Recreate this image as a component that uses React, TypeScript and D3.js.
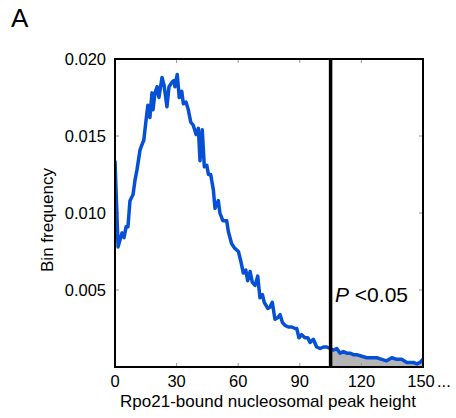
import React from "react";
import * as d3 from "d3";

const peakHeight = [
  0, 1.5, 3.4, 4.4, 5.4, 6.3, 7.3, 8.8, 9.7, 10.7, 12.2, 13.6, 14.0, 15.1, 16.0, 17.0, 18.0, 18.5,
  19.5, 20.5, 21.4, 22.9, 23.9, 25.3, 26.3, 27.8, 28.7, 29.2, 30.3, 31.3, 32.5, 33.3, 34.6, 35.7,
  36.9, 38.1, 39.5, 40.6, 41.4, 42.5, 43.5, 44.7, 45.5, 46.6, 47.9, 48.7, 50.3, 51.1, 52.5, 54.4,
  55.2, 56.8, 58.4, 60.1, 61.4, 62.5, 63.7, 64.6, 65.8, 66.9, 68.2, 69.5, 70.6, 71.8, 72.7, 74.4,
  75.5, 76.6, 77.9, 79.2, 80.4, 81.5, 82.8, 84.4, 86.1, 87.7, 88.5, 89.6, 90.9, 92.5, 93.9, 95.0,
  96.6, 98.2, 99.9, 101.5, 103.1, 104.7, 106.3, 108.0, 109.6, 111.2, 112.9, 114.5, 116.1, 117.7,
  120.2, 122.6, 125.0, 127.5, 129.9, 132.3, 134.8, 137.2, 139.6, 142.1, 143.7, 145.3, 147.0,
  148.6, 150,
];
const binFrequency = [
  0.0134, 0.0078, 0.0087, 0.0084, 0.0091, 0.0091, 0.0108, 0.0112, 0.0121, 0.0128, 0.0141, 0.0146,
  0.0147, 0.016, 0.017, 0.0162, 0.0178, 0.0167, 0.0178, 0.0182, 0.0175, 0.0188, 0.0183, 0.0169,
  0.0182, 0.0185, 0.0186, 0.0182, 0.019, 0.0175, 0.0179, 0.0171, 0.0172, 0.0167, 0.0159, 0.0157,
  0.0151, 0.0155, 0.0134, 0.0154, 0.013, 0.0131, 0.0125, 0.0125, 0.0115, 0.0103, 0.0108, 0.01,
  0.0095, 0.0095, 0.0088, 0.008, 0.0077, 0.0075, 0.0068, 0.0061, 0.0063, 0.0056, 0.0062, 0.0055,
  0.0053, 0.0059, 0.0045, 0.0047, 0.0042, 0.0038, 0.0039, 0.0042, 0.0031, 0.0032, 0.0034, 0.0029,
  0.0027, 0.0026, 0.0026, 0.0025, 0.0025, 0.0019, 0.0021, 0.0019, 0.0019, 0.0016, 0.0018, 0.0013,
  0.0012, 0.0013, 0.0013, 0.0012, 0.0011, 0.0012, 0.0009, 0.001, 0.0009, 0.0009, 0.0008, 0.0008,
  0.0007, 0.0006, 0.0006, 0.0006, 0.0005, 0.0004, 0.0006, 0.0005, 0.0005, 0.0003, 0.0003, 0.0003,
  0.0002, 0.0003, 0.0005,
];
const xTicks = [0, 30, 60, 90, 120, 150];
const yTicks = [0.005, 0.01, 0.015, 0.02];
const threshold = 105;

const FONT = "Liberation Sans, Arial, sans-serif";

export default function App() {
  const left = 115, right = 423, top = 59, bottom = 367;
  const x = d3.scaleLinear().domain([0, 150]).range([left, right]);
  const y = d3.scaleLinear().domain([0, 0.02]).range([bottom, top]);
  const data = peakHeight.map((h, i) => ({ h, f: binFrequency[i] }));
  const line = d3.line<{ h: number; f: number }>().x((d) => x(d.h)).y((d) => y(d.f));
  const area = d3
    .area<{ h: number; f: number }>()
    .x((d) => x(d.h))
    .y0(y(0))
    .y1((d) => y(d.f));
  const tickLen = 4;
  return (
    <svg
      width={456}
      height={418}
      style={{ position: "absolute", left: 0, top: 0, background: "#fff" }}
      fontFamily={FONT}
    >
      <defs>
        <clipPath id="tail">
          <rect x={x(threshold)} y={top} width={right - x(threshold)} height={bottom - top} />
        </clipPath>
        <clipPath id="plot">
          <rect x={left} y={top - 2} width={right - left} height={bottom - top + 2} />
        </clipPath>
      </defs>
      <text x={11} y={27} fontSize={26} fill="#000">A</text>
      <path d={area(data) || ""} fill="#b5b5b5" clipPath="url(#tail)" />
      {xTicks.map((t) => (
        <g key={"xt" + t} stroke="#999" strokeWidth={1}>
          <line x1={x(t)} x2={x(t)} y1={bottom} y2={bottom - tickLen} />
          <line x1={x(t)} x2={x(t)} y1={top} y2={top + tickLen} />
        </g>
      ))}
      {yTicks.map((t) => (
        <g key={"yt" + t} stroke="#999" strokeWidth={1}>
          <line x1={left} x2={left + tickLen} y1={y(t)} y2={y(t)} />
          <line x1={right} x2={right - tickLen} y1={y(t)} y2={y(t)} />
        </g>
      ))}
      <path
        d={line(data) || ""}
        fill="none"
        stroke="#0650d6"
        strokeWidth={3.5}
        strokeLinejoin="round"
        clipPath="url(#plot)"
      />
      <line x1={x(threshold)} x2={x(threshold)} y1={top} y2={bottom} stroke="#000" strokeWidth={3.5} />
      <rect x={left} y={top} width={right - left} height={bottom - top} fill="none" stroke="#000" strokeWidth={2} />
      {xTicks.map((t) => (
        <text
          key={"xl" + t}
          x={t === 150 ? x(t) - 2 : x(t)}
          y={387}
          fontSize={16.5}
          textAnchor="middle"
          fill="#000"
        >
          {String(t)}
        </text>
      ))}
      <text x={x(150) + 14} y={387} fontSize={16.5} fill="#000">...</text>
      {yTicks.map((t) => (
        <text key={"yl" + t} x={106} y={y(t) + 5.5} fontSize={16.5} textAnchor="end" fill="#000">
          {t.toFixed(3)}
        </text>
      ))}
      <text x={268} y={407} fontSize={17} textAnchor="middle" fill="#000">
        Rpo21-bound nucleosomal peak height
      </text>
      <text
        transform={`translate(53, 220) rotate(-90)`}
        fontSize={17}
        textAnchor="middle"
        fill="#000"
      >
        Bin frequency
      </text>
      <text x={335} y={302} fontSize={21} fill="#000">
        <tspan fontStyle="italic">P</tspan>
        <tspan> &lt;0.05</tspan>
      </text>
    </svg>
  );
}
